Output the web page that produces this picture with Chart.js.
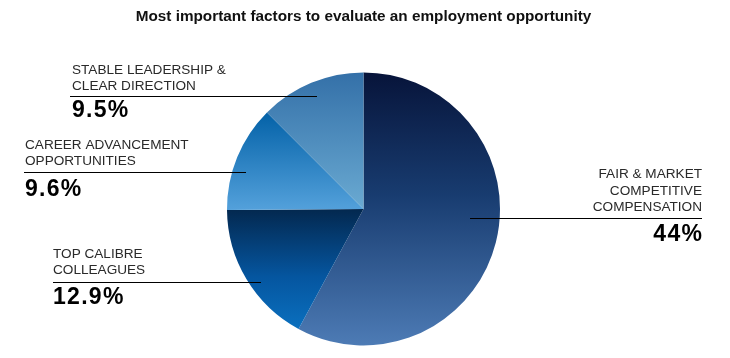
<!DOCTYPE html>
<html>
<head>
<meta charset="utf-8">
<script src="https://cdn.jsdelivr.net/npm/chart.js@4"></script>
<style>
  html, body { margin: 0; padding: 0; background: #fff; }
  #wrap { width: 730px; height: 358px; position: relative; }
</style>
</head>
<body>
<div id="wrap"><canvas id="c" width="730" height="358"></canvas></div>
<script>
const titleText = 'Most important factors to evaluate an employment opportunity';
const categories = [
  ['FAIR & MARKET', 'COMPETITIVE', 'COMPENSATION'],
  ['TOP CALIBRE', 'COLLEAGUES'],
  ['CAREER ADVANCEMENT', 'OPPORTUNITIES'],
  ['STABLE LEADERSHIP &', 'CLEAR DIRECTION']
];
const values = [44, 12.9, 9.6, 9.5];
const valueLabels = ['44%', '12.9%', '9.6%', '9.5%'];

// gradient stops per slice (fraction of pie diameter from top)
const sliceGradients = [
  [[0, '#07143a'], [0.45, '#183c70'], [1, '#4d7bb5']],
  [[0.5, '#03284f'], [0.75, '#0556a0'], [1, '#0c78c8']],
  [[0.15, '#0462a8'], [0.51, '#55a2dc']],
  [[0, '#3470a8'], [0.5, '#6aaad2']]
];

const PIE_R = 136.5;

// label layout: text anchor x, alignment, line centers, leader line
const labelLayout = [
  { x: 702, align: 'right', lines: [174, 191, 207.5], leader: [470, 702, 218.5], pct: 235 },
  { x: 53, align: 'left', lines: [254, 270.5], leader: [53, 261, 282.5], pct: 298 },
  { x: 25, align: 'left', lines: [145, 161], leader: [24, 246, 172.5], pct: 190 },
  { x: 72, align: 'left', lines: [70.5, 86], leader: [70, 317, 96.5], pct: 110.5 }
];

const labelPlugin = {
  id: 'pieLabels',
  afterDraw(chart) {
    const ctx = chart.ctx;
    ctx.save();
    labelLayout.forEach((L, i) => {
      ctx.fillStyle = '#2a2a2a';
      ctx.textAlign = L.align;
      ctx.textBaseline = 'middle';
      ctx.font = '13.6px "Liberation Sans", Arial, sans-serif';
      ctx.letterSpacing = '0px';
      categories[i].forEach((t, j) => ctx.fillText(t, L.x, L.lines[j]));
      ctx.font = 'bold 23px "Liberation Sans", Arial, sans-serif';
      ctx.letterSpacing = '1.3px';
      const px = L.align === 'right' ? L.x + 1.3 : L.x;
      ctx.fillStyle = '#000';
      ctx.fillText(valueLabels[i], px, L.pct);
      ctx.letterSpacing = '0px';
      ctx.strokeStyle = '#000';
      ctx.lineWidth = 1;
      ctx.beginPath();
      ctx.moveTo(L.leader[0], L.leader[2]);
      ctx.lineTo(L.leader[1], L.leader[2]);
      ctx.stroke();
    });
    ctx.restore();
  }
};

function sliceColor(context) {
  const chart = context.chart;
  const area = chart.chartArea;
  const i = context.dataIndex;
  if (!area) return sliceGradients[i][0][1];
  const cy = (area.top + area.bottom) / 2;
  const g = chart.ctx.createLinearGradient(0, cy - PIE_R, 0, cy + PIE_R);
  sliceGradients[i].forEach(s => g.addColorStop(s[0], s[1]));
  return g;
}

new Chart(document.getElementById('c'), {
  type: 'pie',
  data: {
    labels: categories.map(c => c.join(' ')),
    datasets: [{
      data: values,
      backgroundColor: sliceColor,
      borderWidth: 0,
      radius: PIE_R
    }]
  },
  options: {
    responsive: false,
    animation: false,
    layout: { padding: { left: 0, right: 3, top: 0, bottom: 0 } },
    plugins: {
      legend: { display: false },
      tooltip: { enabled: false },
      title: {
        display: true,
        text: titleText,
        color: '#111',
        font: { family: '"Liberation Sans", Arial, sans-serif', size: 15.3, weight: 'bold', lineHeight: 1.2 },
        padding: { top: 8, bottom: 33.6 }
      }
    }
  },
  plugins: [labelPlugin]
});
</script>
</body>
</html>
